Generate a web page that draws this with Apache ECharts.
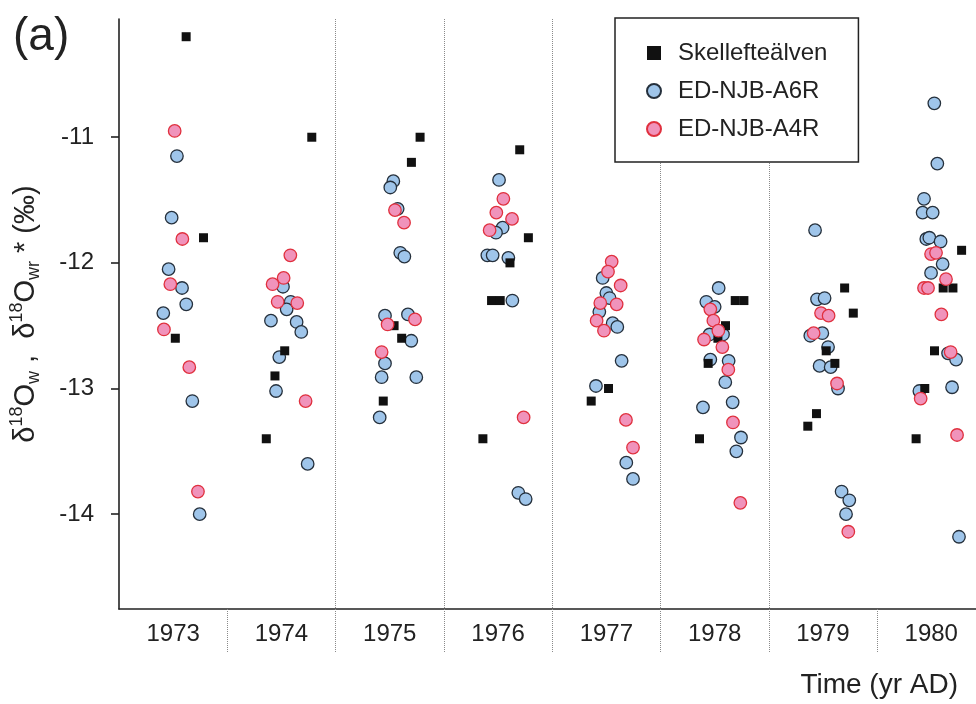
<!DOCTYPE html>
<html>
<head>
<meta charset="utf-8">
<script src="https://cdn.jsdelivr.net/npm/echarts@6/dist/echarts.min.js"></script>
<style>
html,body{margin:0;padding:0;background:#fff;}
#main{width:976px;height:704px;}
</style>
</head>
<body>
<div id="main"></div>
<script>
// ---- data (years as decimal time, values in per mil) ----
const seriesNames = ['Skellefteälven', 'ED-NJB-A6R', 'ED-NJB-A4R'];
const yearLabels = [1973, 1974, 1975, 1976, 1977, 1978, 1979, 1980];
const yTicks = [-14, -13, -12, -11];

const skelX = [1973.62,1973.78,1973.52, 1974.78,1974.53,1974.44,1974.36, 1975.78,1975.70,1975.54,1975.61,1975.44,
  1976.70,1976.78,1976.61,1976.44,1976.52,1976.36, 1977.52,1977.36, 1978.69,1978.77,1978.60,1978.53,1978.44,1978.36,
  1979.70,1979.78,1979.53,1979.61,1979.44,1979.36, 1980.78,1980.61,1980.70,1980.53,1980.44,1980.36];
const skelY = [-10.2,-11.8,-12.6, -11.0,-12.7,-12.9,-13.4, -11.0,-11.2,-12.5,-12.6,-13.1,
  -11.1,-11.8,-12.0,-12.3,-12.3,-13.4, -13.0,-13.1, -12.3,-12.3,-12.5,-12.6,-12.8,-13.4,
  -12.2,-12.4,-12.7,-12.8,-13.2,-13.3, -11.9,-12.2,-12.2,-12.7,-13.0,-13.4];

const a6rX = [1973.535,1973.486,1973.458,1973.582,1973.621,1973.409,1973.677,1973.745,
  1974.514,1974.585,1974.548,1974.403,1974.64,1974.683,1974.48,1974.45,1974.742,
  1975.533,1975.505,1975.573,1975.597,1975.635,1975.456,1975.668,1975.699,1975.456,1975.425,1975.745,1975.407,
  1976.509,1976.542,1976.481,1976.401,1976.45,1976.595,1976.632,1976.687,1976.755,
  1977.466,1977.5,1977.53,1977.435,1977.558,1977.601,1977.641,1977.404,1977.684,1977.746,
  1978.537,1978.423,1978.5,1978.577,1978.453,1978.46,1978.629,1978.598,1978.392,1978.666,1978.743,1978.7,
  1979.427,1979.445,1979.515,1979.383,1979.494,1979.547,1979.469,1979.571,1979.639,1979.672,1979.743,1979.713,
  1980.528,1980.556,1980.433,1980.42,1980.513,1980.454,1980.482,1980.586,1980.605,1980.498,1980.655,1980.729,1980.692,1980.39,1980.756];
const a6rY = [-11.15,-11.64,-12.05,-12.20,-12.33,-12.40,-13.10,-14.00,
  -12.19,-12.31,-12.37,-12.46,-12.47,-12.55,-12.75,-13.02,-13.60,
  -11.35,-11.40,-11.57,-11.92,-11.95,-12.42,-12.41,-12.62,-12.80,-12.91,-12.91,-13.23,
  -11.34,-11.72,-11.76,-11.94,-11.94,-11.96,-12.30,-13.83,-13.88,
  -12.12,-12.24,-12.28,-12.39,-12.48,-12.51,-12.78,-12.98,-13.59,-13.72,
  -12.20,-12.31,-12.35,-12.57,-12.57,-12.77,-12.78,-12.95,-13.15,-13.11,-13.39,-13.50,
  -11.74,-12.29,-12.28,-12.58,-12.56,-12.67,-12.82,-12.83,-13.00,-13.82,-13.89,-14.00,
  -10.73,-11.21,-11.49,-11.60,-11.60,-11.81,-11.80,-11.83,-12.01,-12.08,-12.72,-12.77,-12.99,-13.02,-14.18];

const a4rX = [1973.514,1973.585,1973.474,1973.415,1973.649,1973.729,
  1974.582,1974.52,1974.418,1974.465,1974.646,1974.723,
  1975.548,1975.632,1975.733,1975.48,1975.425,
  1976.549,1976.484,1976.629,1976.422,1976.736,
  1977.549,1977.515,1977.632,1977.444,1977.595,1977.41,1977.478,1977.681,1977.746,
  1978.46,1978.488,1978.534,1978.402,1978.571,1978.626,1978.669,1978.737,
  1979.482,1979.552,1979.414,1979.63,1979.734,
  1980.498,1980.544,1980.636,1980.433,1980.47,1980.593,1980.679,1980.402,1980.738];
const a4rY = [-10.95,-11.81,-12.17,-12.53,-12.83,-13.82,
  -11.94,-12.12,-12.17,-12.31,-12.32,-13.10,
  -11.58,-11.68,-12.45,-12.49,-12.71,
  -11.49,-11.60,-11.65,-11.74,-13.23,
  -11.99,-12.07,-12.18,-12.32,-12.33,-12.46,-12.54,-13.25,-13.47,
  -12.37,-12.46,-12.54,-12.61,-12.67,-12.85,-13.27,-13.91,
  -12.40,-12.42,-12.56,-12.96,-14.14,
  -11.93,-11.92,-12.13,-12.20,-12.20,-12.41,-12.71,-13.08,-13.37];

// ---- build ----
const zip = (xs, ys) => xs.map((x, i) => [x, ys[i]]);
const FONT = "'Liberation Sans', Arial, Helvetica, sans-serif";
const TXT = '#222';
const sepValues = yearLabels.slice(1);
const labelValues = yearLabels.map(y => y + 0.5);

const chart = echarts.init(document.getElementById('main'), null, {renderer: 'canvas'});
chart.setOption({
  animation: false,
  backgroundColor: '#fff',
  textStyle: {fontFamily: FONT},
  title: [
    {text: '(a)', left: 8, top: 9, padding: 5,
     textStyle: {fontSize: 46, fontWeight: 'normal', color: TXT, fontFamily: FONT}},
    {text: 'Time (yr AD)', right: 13, top: 666, padding: 5,
     textStyle: {fontSize: 28, fontWeight: 'normal', color: TXT, fontFamily: FONT}}
  ],
  legend: {
    orient: 'vertical', left: 615, top: 18,
    padding: [23, 31, 21, 31], itemGap: 14, itemWidth: 14, itemHeight: 14,
    borderColor: '#222', borderWidth: 1.5, backgroundColor: '#fff',
    data: seriesNames,
    formatter: n => '{g| }' + n,
    textStyle: {fontSize: 24, color: TXT, fontFamily: FONT, rich: {g: {width: 12}}}
  },
  grid: {left: 119, right: 0, top: 19, bottom: 95, containLabel: false},
  xAxis: {
    type: 'value', min: 1973, max: 1980.913, interval: 1,
    axisLine: {show: true, onZero: false, lineStyle: {color: TXT, width: 1.6}},
    axisTick: {show: true, customValues: sepValues, length: 44, inside: false,
      lineStyle: {color: '#8a8a8a', type: 'dotted', width: 1}},
    axisLabel: {show: true, customValues: labelValues, formatter: v => String(Math.floor(v)),
      fontSize: 24, color: TXT, margin: 13, fontFamily: FONT},
    splitLine: {show: true, showMinLine: false, showMaxLine: false,
      lineStyle: {color: '#8a8a8a', type: 'dotted', width: 1}}
  },
  yAxis: {
    type: 'value', min: -14.755, max: -10.059,
    axisLine: {show: true, onZero: false, lineStyle: {color: TXT, width: 1.6}},
    axisTick: {show: true, customValues: yTicks, length: 8, lineStyle: {color: TXT, width: 1.6}},
    axisLabel: {show: true, customValues: yTicks, formatter: v => String(v),
      fontSize: 24, color: TXT, margin: 25, fontFamily: FONT},
    splitLine: {show: false},
    name: '{b|δ}{p|18}{b|O}{s|w}{b| ,  δ}{p|18}{b|O}{s|wr}{b| * (‰)}',
    nameLocation: 'middle', nameRotate: 90, nameGap: 76,
    nameTextStyle: {
      color: TXT, fontFamily: FONT, fontSize: 29,
      rich: {
        b: {fontSize: 29, lineHeight: 35, color: TXT, fontFamily: FONT},
        p: {fontSize: 18, lineHeight: 18, verticalAlign: 'top', color: TXT, fontFamily: FONT},
        s: {fontSize: 18, lineHeight: 18, verticalAlign: 'bottom', color: TXT, fontFamily: FONT}
      }
    }
  },
  series: [
    {name: 'ED-NJB-A6R', type: 'scatter', symbol: 'circle', symbolSize: 12.5,
     itemStyle: {color: '#9fc5ea', borderColor: '#25303c', borderWidth: 1.3, opacity: 1},
     emphasis: {disabled: true}, data: zip(a6rX, a6rY)},
    {name: 'Skellefteälven', type: 'scatter', symbol: 'rect', symbolSize: 9,
     itemStyle: {color: '#111111', opacity: 1},
     emphasis: {disabled: true}, data: zip(skelX, skelY)},
    {name: 'ED-NJB-A4R', type: 'scatter', symbol: 'circle', symbolSize: 12.5,
     itemStyle: {color: '#f093bb', borderColor: '#e0303e', borderWidth: 1.3, opacity: 1},
     emphasis: {disabled: true}, data: zip(a4rX, a4rY)}
  ]
});
</script>
</body>
</html>
